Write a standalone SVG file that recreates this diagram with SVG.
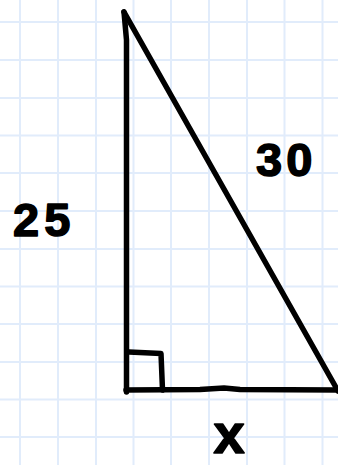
<svg xmlns="http://www.w3.org/2000/svg" width="338" height="465" viewBox="0 0 338 465">
<style>
.grid line{stroke:#e1ecfb;stroke-width:2}
.pen{fill:none;stroke:#000;stroke-width:5.5;stroke-linecap:round;stroke-linejoin:round}
.lbl{font-family:"Comic Sans MS","Liberation Sans",sans-serif;font-weight:bold;fill:#000;stroke:#000;stroke-width:1.5;stroke-linejoin:round}
</style>
<rect width="338" height="465" fill="#fff"/>
<g class="grid">
<line x1="20" y1="0" x2="20" y2="465"/>
<line x1="58" y1="0" x2="58" y2="465"/>
<line x1="96" y1="0" x2="96" y2="465"/>
<line x1="133.5" y1="0" x2="133.5" y2="465"/>
<line x1="171" y1="0" x2="171" y2="465"/>
<line x1="209" y1="0" x2="209" y2="465"/>
<line x1="247" y1="0" x2="247" y2="465"/>
<line x1="284.5" y1="0" x2="284.5" y2="465"/>
<line x1="322.5" y1="0" x2="322.5" y2="465"/>
<line x1="0" y1="22" x2="338" y2="22"/>
<line x1="0" y1="60" x2="338" y2="60"/>
<line x1="0" y1="98" x2="338" y2="98"/>
<line x1="0" y1="135.5" x2="338" y2="135.5"/>
<line x1="0" y1="173" x2="338" y2="173"/>
<line x1="0" y1="211" x2="338" y2="211"/>
<line x1="0" y1="249" x2="338" y2="249"/>
<line x1="0" y1="286.5" x2="338" y2="286.5"/>
<line x1="0" y1="324" x2="338" y2="324"/>
<line x1="0" y1="362" x2="338" y2="362"/>
<line x1="0" y1="399.5" x2="338" y2="399.5"/>
<line x1="0" y1="437" x2="338" y2="437"/>
</g>
<g id="triangle">
<path class="pen" d="M124,12 L126.5,40 L126.5,392"/>
<path class="pen" d="M124,12 L338,391"/>
<path class="pen" d="M126,390 L200,389.5 L224,388 L240,389.5 L338,390"/>
<path class="pen" d="M129,352 L161,353.5 L162.5,390"/>
</g>
<g id="labels">
<text class="lbl" x="13" y="236" font-size="47" letter-spacing="5">25</text>
<text class="lbl" x="256" y="176" font-size="47" letter-spacing="4">30</text>
<text class="lbl" x="229" y="453" font-size="56" text-anchor="middle">x</text>
</g>
</svg>
